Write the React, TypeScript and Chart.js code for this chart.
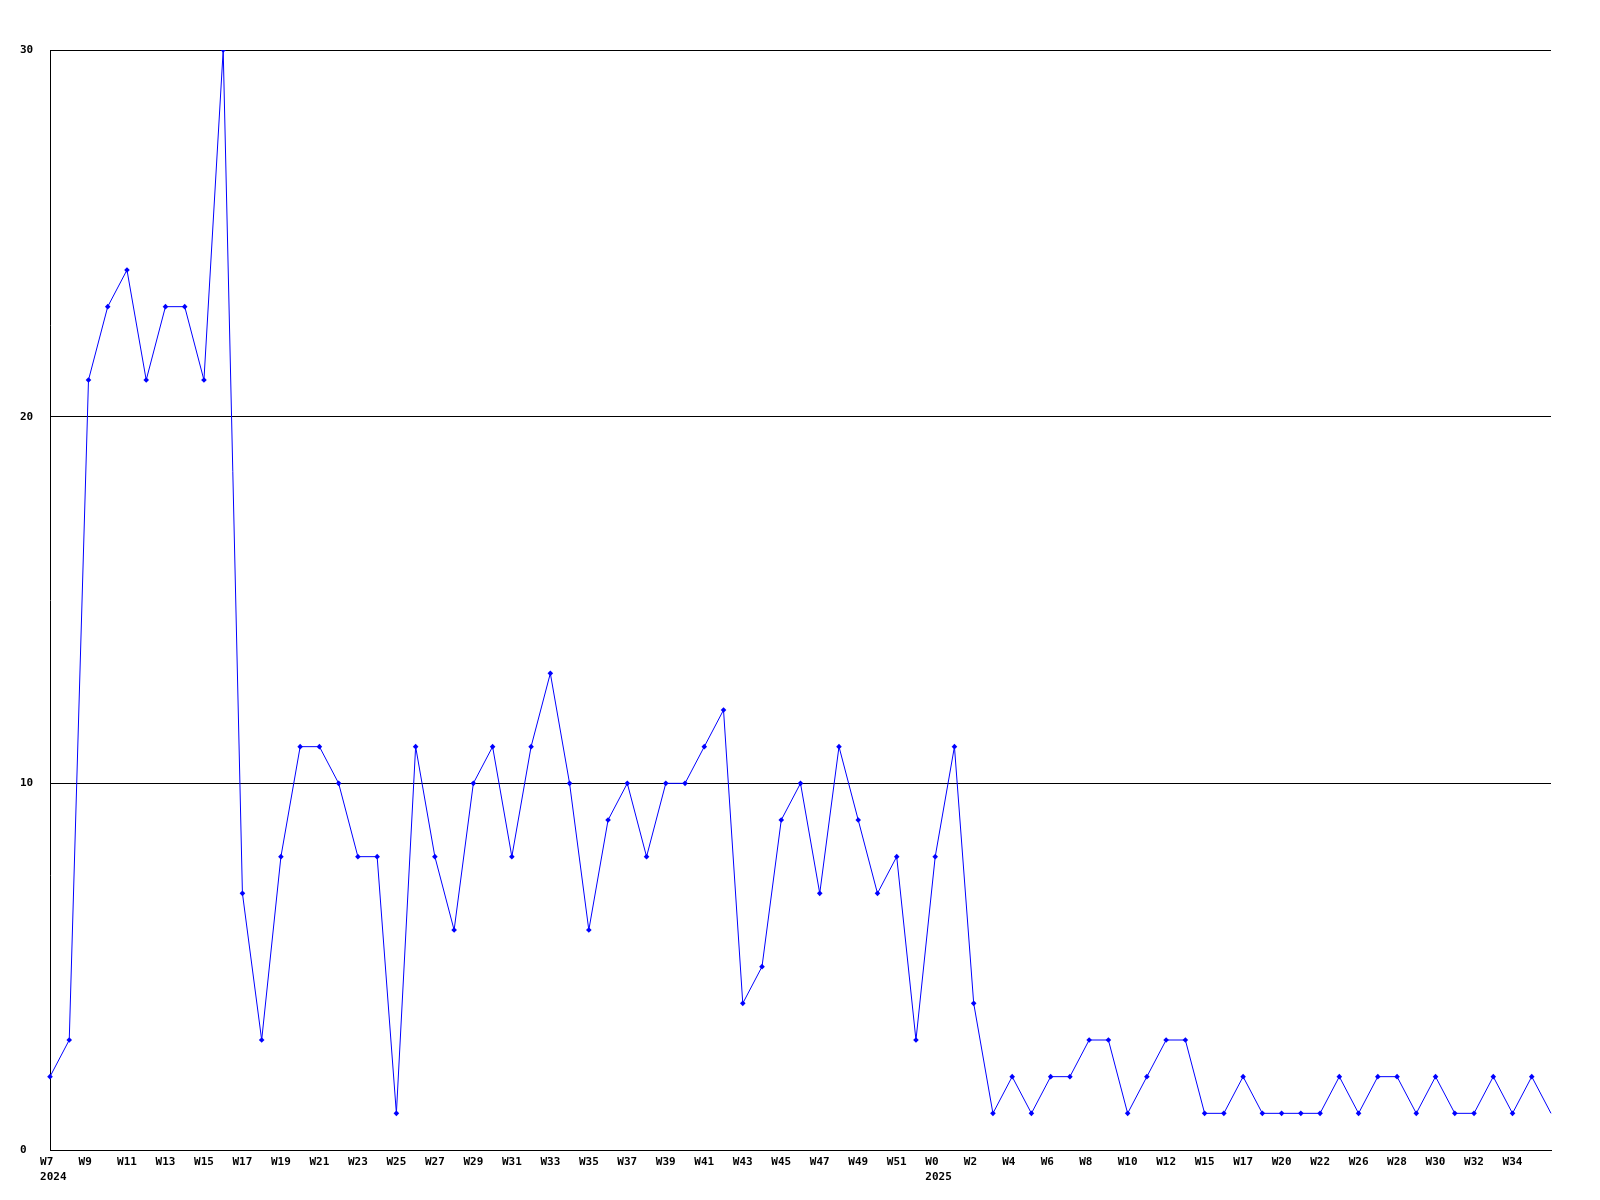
import React, { useEffect, useRef } from "react";
import { Chart, registerables } from "chart.js";

Chart.register(...registerables);

// Week labels for every point (only every second one is shown on the axis)
const weeks: string[] = [
  "W7", "W8", "W9", "W10", "W11", "W12", "W13", "W14", "W15", "W16",
  "W17", "W18", "W19", "W20", "W21", "W22", "W23", "W24", "W25", "W26",
  "W27", "W28", "W29", "W30", "W31", "W32", "W33", "W34", "W35", "W36",
  "W37", "W38", "W39", "W40", "W41", "W42", "W43", "W44", "W45", "W46",
  "W47", "W48", "W49", "W50", "W51", "W52",
  "W0", "W1", "W2", "W3", "W4", "W5", "W6", "W7", "W8", "W9",
  "W10", "W11", "W12", "W13", "W15", "W16", "W17", "W18", "W20", "W21",
  "W22", "W24", "W26", "W27", "W28", "W29", "W30", "W31", "W32", "W33",
  "W34", "W35", "W36",
];

// Year shown under the first week of each year
const yearStartIndex: number[] = [0, 46];
const yearNames: string[] = ["2024", "2025"];

const counts: number[] = [
  2, 3, 21, 23, 24, 21, 23, 23, 21, 30,
  7, 3, 8, 11, 11, 10, 8, 8, 1, 11,
  8, 6, 10, 11, 8, 11, 13, 10, 6, 9,
  10, 8, 10, 10, 11, 12, 4, 5, 9, 10,
  7, 11, 9, 7, 8, 3, 8, 11, 4, 1,
  2, 1, 2, 2, 3, 3, 1, 2, 3, 3,
  1, 1, 2, 1, 1, 1, 1, 2, 1, 2,
  2, 1, 2, 1, 1, 2, 1, 2, 1,
];

const yTicks: number[] = [0, 10, 20, 30];

export default function App() {
  const canvasRef = useRef<HTMLCanvasElement | null>(null);

  useEffect(() => {
    const canvas = canvasRef.current;
    if (!canvas) return;
    const font = { family: "'DejaVu Sans Mono', monospace", size: 11, weight: "bold" as const, lineHeight: 15 / 11 };
    const lastIndex = counts.length - 1;
    const chart = new Chart(canvas, {
      type: "line",
      data: {
        labels: weeks,
        datasets: [
          {
            data: counts,
            borderColor: "#0000ff",
            backgroundColor: "#0000ff",
            borderWidth: 1,
            pointStyle: "rectRot",
            pointRadius: (ctx: any) => (ctx.dataIndex === lastIndex ? 0 : 2.8),
            pointBorderWidth: 0,
            pointBackgroundColor: "#0000ff",
            tension: 0,
            fill: false,
          },
        ],
      },
      options: {
        animation: false,
        responsive: false,
        devicePixelRatio: 1,
        layout: { padding: { left: 20, top: 50, right: 49, bottom: 0 } },
        plugins: {
          legend: { display: false },
          tooltip: { enabled: false },
          title: { display: false },
        },
        scales: {
          x: {
            type: "category",
            offset: false,
            grid: { display: false, drawTicks: false },
            border: { display: true, color: "#000000", width: 1 },
            ticks: {
              autoSkip: false,
              maxRotation: 0,
              minRotation: 0,
              padding: 5,
              color: "#000000",
              font,
              callback: (_v: any, index: number) => {
                if (index % 2 !== 0 || index === lastIndex) return "";
                const w = weeks[index];
                const label = w.length === 2 ? w + " " : w;
                const yi = yearStartIndex.indexOf(index);
                return yi >= 0 ? [label, " " + yearNames[yi]] : label;
              },
            },
            afterFit: (scale: any) => {
              scale.height = 50;
            },
          },
          y: {
            min: yTicks[0],
            max: yTicks[yTicks.length - 1],
            grid: { color: "#000000", lineWidth: 1, drawTicks: false },
            border: { display: true, color: "#000000", width: 1 },
            afterBuildTicks: (scale: any) => {
              scale.ticks = yTicks.map((v) => ({ value: v }));
            },
            ticks: {
              crossAlign: "far",
              color: "#000000",
              font,
              padding: 0,
              callback: (v: any) => String(v),
            },
            afterFit: (scale: any) => {
              scale.width = 30;
            },
          },
        },
      },
    });
    return () => chart.destroy();
  }, []);

  return (
    <div style={{ position: "absolute", left: 0, top: 0, width: 1600, height: 1200, background: "#ffffff" }}>
      <canvas ref={canvasRef} width={1600} height={1200} style={{ display: "block", width: 1600, height: 1200 }} />
    </div>
  );
}
